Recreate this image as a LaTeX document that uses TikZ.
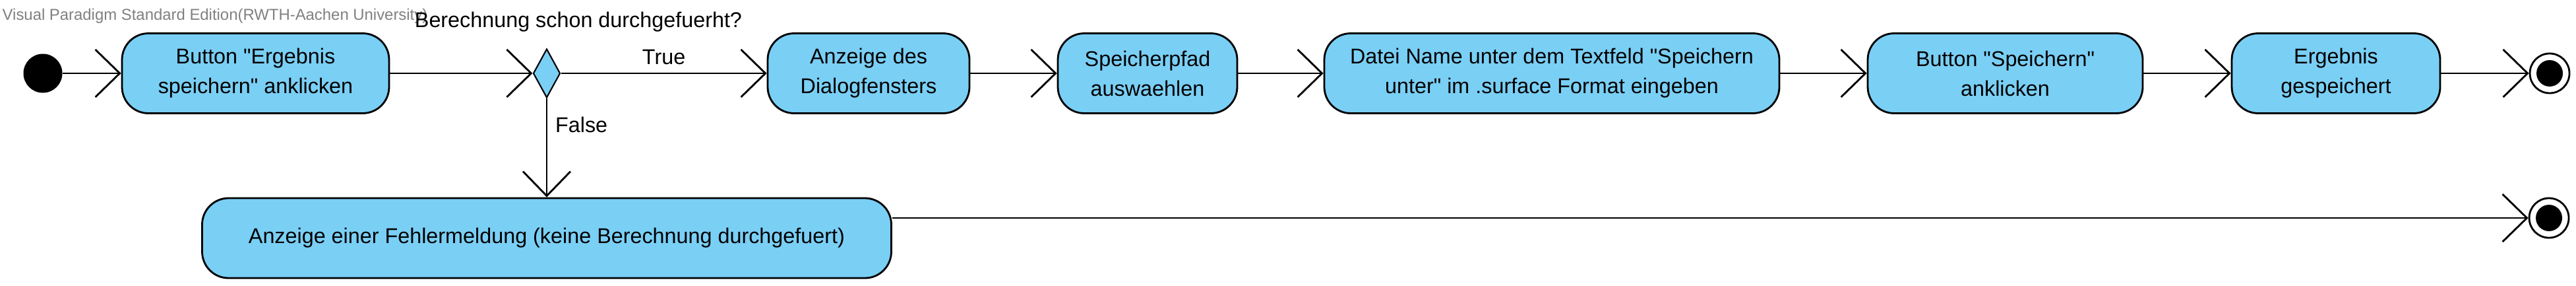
\documentclass[tikz,border=0pt]{standalone}
\usepackage{fontspec}
\setmainfont{Liberation Sans}
\usetikzlibrary{arrows.meta,shapes.geometric}
\definecolor{vpblau}{RGB}{122,207,245}
\definecolor{vpgrau}{RGB}{128,128,128}
\newcommand{\qz}{\textquotedbl}

\begin{document}
\begin{tikzpicture}[font=\fontsize{9.2}{12.8}\selectfont,
    aktion/.style={draw, line width=0.8pt, fill=vpblau, rounded corners=0.4cm,
        minimum height=1.21cm, inner sep=0pt, align=center},
    pfeil/.style={line width=0.8pt, -{Straight Barb[length=0.37cm, width=0.72cm]}},
    ende/.style={circle, draw, line width=0.8pt, fill=white, minimum size=0.6cm, inner sep=0pt,
        path picture={\fill[black] (path picture bounding box.center) circle (0.2cm);}}]
    \useasboundingbox (0,0) rectangle (39.06,4.32);
    \node[anchor=base west, inner sep=0pt, text=vpgrau, font=\fontsize{6.8}{8}\selectfont]
        (wasserzeichen) at (0.03,4.02) {Visual Paradigm Standard Edition(RWTH-Aachen University)};
    \node[anchor=base] (frage) at (8.77,3.91) {Berechnung schon durchgefuerht?};
    % obere Reihe
    \node[circle, fill=black, minimum size=0.59cm, inner sep=0pt] (start) at (0.65,3.21) {};
    \node[aktion, minimum width=4.05cm] (knopf) at (3.875,3.21) {Button \qz Ergebnis\\speichern\qz{} anklicken};
    \node[diamond, draw, line width=0.6pt, fill=vpblau, minimum width=0.41cm, minimum height=0.74cm,
        inner sep=0pt] (raute) at (8.29,3.21) {};
    \node[aktion, minimum width=3.06cm] (dialog) at (13.17,3.21) {Anzeige des\\Dialogfensters};
    \node[aktion, minimum width=2.72cm] (pfad) at (17.40,3.21) {Speicherpfad\\auswaehlen};
    \node[aktion, minimum width=6.9cm] (datei) at (23.53,3.21)
        {Datei Name unter dem Textfeld \qz Speichern\\unter\qz{} im .surface Format eingeben};
    \node[aktion, minimum width=4.17cm] (speichern) at (30.405,3.21) {Button \qz Speichern\qz\\anklicken};
    \node[aktion, minimum width=3.16cm] (ergebnis) at (35.42,3.21) {Ergebnis\\gespeichert};
    \node[ende] (ende1) at (38.66,3.21) {};
    % untere Reihe
    \node[aktion, minimum width=10.45cm] (fehler) at (8.29,0.715)
        {Anzeige einer Fehlermeldung (keine Berechnung durchgefuert)};
    \node[ende] (ende2) at (38.65,1.02) {};
    \draw[pfeil] (start) -- (knopf);
    \draw[pfeil] (knopf) -- (raute);
    \draw[pfeil] (raute) -- node[above] {True} (dialog);
    \draw[pfeil] (dialog) -- (pfad);
    \draw[pfeil] (pfad) -- (datei);
    \draw[pfeil] (datei) -- (speichern);
    \draw[pfeil] (speichern) -- (ergebnis);
    \draw[pfeil] (ergebnis) -- (ende1);
    \draw[pfeil] (raute) -- node[pos=0.27, right] {False} (fehler);
    \draw[pfeil] (fehler.east |- ende2) -- (ende2);
\end{tikzpicture}
\end{document}
